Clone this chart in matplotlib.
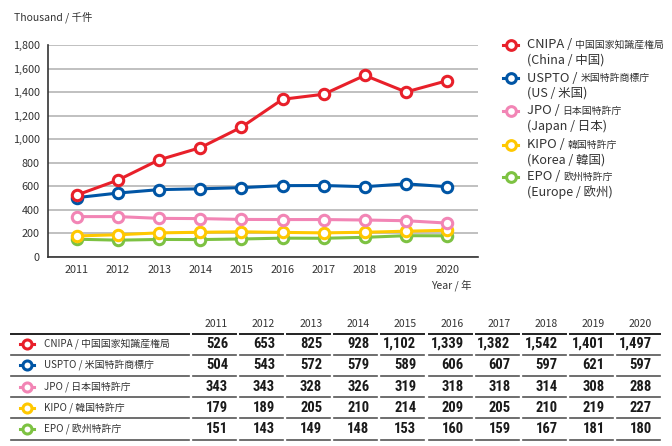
import matplotlib
matplotlib.use("Agg")
import matplotlib.pyplot as plt
from matplotlib.lines import Line2D
from matplotlib import font_manager

plt.rcParams['font.family'] = ['Noto Sans CJK JP', 'DejaVu Sans']

years = [2011, 2012, 2013, 2014, 2015, 2016, 2017, 2018, 2019, 2020]
cnipa = [526, 653, 825, 928, 1102, 1339, 1382, 1542, 1401, 1497]
uspto = [504, 543, 572, 579, 589, 606, 607, 597, 621, 597]
jpo = [343, 343, 328, 326, 319, 318, 318, 314, 308, 288]
kipo = [179, 189, 205, 210, 214, 209, 205, 210, 219, 227]
epo = [151, 143, 149, 148, 153, 160, 159, 167, 181, 180]

series_values = [cnipa, uspto, jpo, kipo, epo]
legend_main = ["CNIPA / ", "USPTO / ", "JPO / ", "KIPO / ", "EPO / "]
legend_cjk = ["中国国家知識産権局", "米国特許商標庁", "日本国特許庁", "韓国特許庁", "欧州特許庁"]
legend_sub = ["(China / 中国)", "(US / 米国)", "(Japan / 日本)", "(Korea / 韓国)", "(Europe / 欧州)"]
table_labels = ["CNIPA / 中国国家知識産権局", "USPTO / 米国特許商標庁", "JPO / 日本国特許庁",
                "KIPO / 韓国特許庁", "EPO / 欧州特許庁"]
colors = ["#e8202a", "#0055a5", "#f285b5", "#ffc800", "#7dc242"]
yticks = [0, 200, 400, 600, 800, 1000, 1200, 1400, 1600, 1800]

names = {f.name for f in font_manager.fontManager.ttflist}
num_family = [n for n in ['Liberation Sans Narrow', 'Roboto Condensed', 'DejaVu Sans Condensed',
                          'Roboto', 'DejaVu Sans'] if n in names] or ['DejaVu Sans']
num_size = 10.5 if num_family[0] in ('Liberation Sans Narrow', 'Roboto Condensed') else 7.8

W, H = 672, 446
fig = plt.figure(figsize=(W / 100, H / 100), dpi=100)

def fx(px):
    return px / W

def fy(py):
    return 1 - py / H

ax = fig.add_axes([fx(48), fy(257), fx(478) - fx(48), fy(45) - fy(257)])
txt = "#333333"

for vals, col in reversed(list(zip(series_values, colors))):
    ax.plot(years, vals, color=col, lw=2.2, marker='o', ms=7.5, mfc='white',
            mec=col, mew=2.2, zorder=3)

ax.set_xlim(2010.3, 2020.75)
ax.set_ylim(0, 1800)
ax.set_yticks(yticks)
ax.set_yticklabels([f"{v:,}" for v in yticks])
ax.set_xticks(years)
ax.set_xticklabels([str(y) for y in years])
ax.grid(axis='y', color='#b5b5b5', lw=1.2)
ax.set_axisbelow(True)
for s in ['top', 'right']:
    ax.spines[s].set_visible(False)
ax.spines['left'].set_color('#333333')
ax.spines['bottom'].set_color('#333333')
ax.spines['left'].set_linewidth(1.2)
ax.spines['bottom'].set_linewidth(1.2)
ax.tick_params(axis='both', length=0, labelsize=7.8, colors=txt, pad=6)

fig.text(fx(14), fy(17), "Thousand / 千件", fontsize=7.5, color=txt, va='center', ha='left')
fig.text(fx(472), fy(285), "Year / 年", fontsize=7.5, color=txt, va='center', ha='right')

leg_y = [45, 78, 111, 145, 177]
for i, col in enumerate(colors):
    y = leg_y[i]
    fig.add_artist(Line2D([fx(503), fx(518)], [fy(y), fy(y)], color=col, lw=2.2))
    fig.add_artist(Line2D([fx(510.5)], [fy(y)], color=col, marker='o', ms=7,
                          mfc='white', mec=col, mew=2.2, lw=0))
    t = fig.text(fx(527), fy(y), legend_main[i], fontsize=9.3, color=txt, va='center', ha='left')
    fig.canvas.draw()
    bb = t.get_window_extent()
    fig.text(bb.x1 / W, fy(y), legend_cjk[i], fontsize=7.1, color=txt, va='center', ha='left')
    fig.text(fx(527), fy(y + 15), legend_sub[i], fontsize=9, color=txt, va='center', ha='left')

col_right = [228 + k * 47.1 for k in range(len(years))]
hdr_y = 324
row_y = [344, 365, 387, 408, 429]
line_y = [334, 355, 376, 397, 418, 440]
for k, yv in enumerate(years):
    fig.text(fx(col_right[k]), fy(hdr_y), str(yv), fontsize=7.5, color=txt, ha='right', va='center')

segments = [(11, 189)] + [(r - 35, r + 8) for r in col_right]
for j, ly in enumerate(line_y):
    c = '#222222' if j == 0 else '#555555'
    lw = 1.4 if j == 0 else 1.2
    for a, b in segments:
        fig.add_artist(Line2D([fx(a), fx(b)], [fy(ly), fy(ly)], color=c, lw=lw))

for i, (vals, col) in enumerate(zip(series_values, colors)):
    y = row_y[i]
    fig.add_artist(Line2D([fx(20), fx(34)], [fy(y), fy(y)], color=col, lw=2.2))
    fig.add_artist(Line2D([fx(27)], [fy(y)], color=col, marker='o', ms=6.5,
                          mfc='white', mec=col, mew=2.2, lw=0))
    fig.text(fx(44), fy(y), table_labels[i], fontsize=7.1, color=txt, ha='left', va='center')
    for k, v in enumerate(vals):
        fig.text(fx(col_right[k]), fy(y), f"{v:,}", fontsize=num_size, color='#1a1a1a',
                 fontweight='bold', ha='right', va='center', family=num_family)

fig.savefig("out.png", dpi=100)
